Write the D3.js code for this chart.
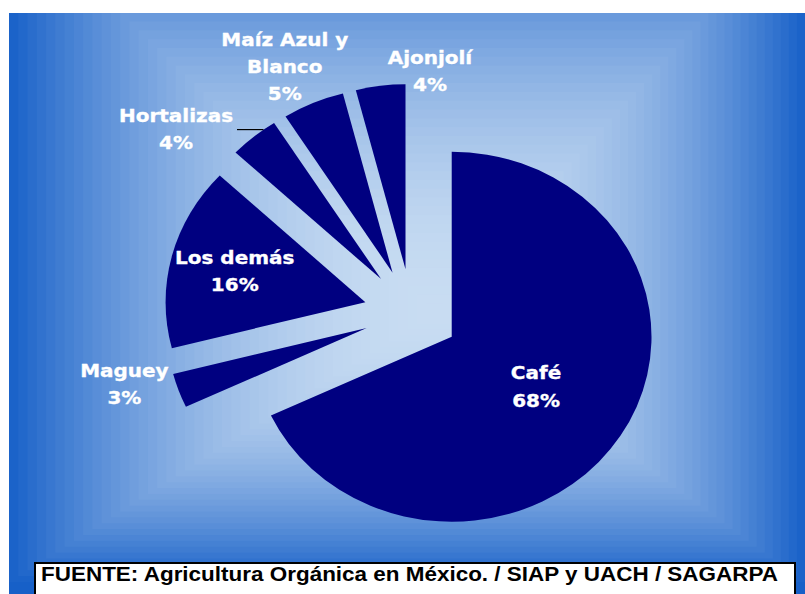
<!DOCTYPE html>
<html>
<head>
<meta charset="utf-8">
<script src="https://cdn.jsdelivr.net/npm/d3@7"></script>
<style>
  html, body { margin: 0; padding: 0; background: #ffffff; }
  svg { display: block; }
</style>
</head>
<body>
<svg id="chart" width="805" height="594"></svg>
<script>
// Superficie orgánica por cultivo (%)
const categories = ["Café", "Maguey", "Los demás", "Hortalizas", "Maíz Azul y Blanco", "Ajonjolí"];
const shares = [68, 3, 16, 4, 5, 4];
const labelLines = [["Café"], ["Maguey"], ["Los demás"], ["Hortalizas"], ["Maíz Azul y", "Blanco"], ["Ajonjolí"]];
const sourceNote = "FUENTE: Agricultura Orgánica en México. / SIAP y UACH / SAGARPA";

const W = 805, H = 594;
const svg = d3.select("#chart");

// ---- background panel with a rectangular centre-out gradient ----
const panel = { x0: 9, y0: 13, x1: W, y1: H };
svg.append("defs").append("clipPath").attr("id", "panelClip")
  .append("rect")
  .attr("x", panel.x0).attr("y", panel.y0)
  .attr("width", panel.x1 - panel.x0).attr("height", panel.y1 - panel.y0);

const grad = { cx: 435, cy: 312, left: 426, right: 370, top: 405, bottom: 270 };
const lightC = "#c8dcf2", darkC = "#1760c8";
const mix = d3.interpolateRgb(lightC, darkC);
const bands = 46;
const bgG = svg.append("g").attr("clip-path", "url(#panelClip)");
bgG.append("rect")
  .attr("x", panel.x0).attr("y", panel.y0)
  .attr("width", panel.x1 - panel.x0).attr("height", panel.y1 - panel.y0)
  .attr("fill", darkC);
const bandSteps = d3.range(bands, 0, -1).map(k => k / bands);
bgG.selectAll("rect.band").data(bandSteps).join("rect")
  .attr("class", "band")
  .attr("x", t => grad.cx - t * grad.left)
  .attr("y", t => grad.cy - t * grad.top)
  .attr("width", t => t * (grad.left + grad.right))
  .attr("height", t => t * (grad.top + grad.bottom))
  .attr("fill", t => mix(Math.pow(t - 0.5 / bands, 2)));

// ---- exploded pie ----
const R = 185, stretchX = 1.08, explode = 44.1;
const C = { x: 411.5, y: 313.1 };
const pieData = d3.pie().sort(null).value(d => d).startAngle(0).endAngle(2 * Math.PI)(shares);
const arc = d3.arc().innerRadius(0).outerRadius(R);
const midOf = d => (d.startAngle + d.endAngle) / 2;

const pieG = svg.append("g")
  .attr("transform", `translate(${C.x},${C.y}) scale(${stretchX},1)`);
pieG.selectAll("path").data(pieData).join("path")
  .attr("transform", d => {
    const m = midOf(d);
    return `translate(${explode * Math.sin(m)},${-explode * Math.cos(m)})`;
  })
  .attr("d", arc)
  .attr("fill", "#000080");

// screen position of the apex of an exploded slice
function apex(d) {
  const m = midOf(d);
  return { x: C.x + stretchX * explode * Math.sin(m), y: C.y - explode * Math.cos(m) };
}
// screen position at a polar offset from a slice apex
function polar(d, rad, ang) {
  const a = apex(d);
  return { x: a.x + stretchX * rad * Math.sin(ang), y: a.y - rad * Math.cos(ang) };
}

// ---- data labels ----
const deg = Math.PI / 180;
const labelPlace = [
  { k: 0.50, shift: 0 },
  { k: 1.25, shift: 5.8 },
  { k: 0.675, shift: 0 },
  { k: 1.31, shift: -12, leader: true },
  { k: 1.24, shift: -2.4 },
  { k: 1.08, shift: 13.7 }
];
const fontSize = 18.5, lineH = 27.3, capH = 13.5;

const labelsG = svg.append("g")
  .attr("font-family", "'DejaVu Sans', Verdana, sans-serif")
  .attr("font-weight", "bold")
  .attr("font-size", fontSize)
  .attr("fill", "#ffffff")
  .attr("stroke", "#ffffff")
  .attr("stroke-width", 0.35)
  .attr("text-anchor", "middle");

pieData.forEach((d, i) => {
  const place = labelPlace[i];
  const p = polar(d, place.k * R, midOf(d) + place.shift * deg);
  const lines = labelLines[i].concat([shares[i] + "%"]);
  const g = labelsG.append("g")
    .attr("transform", `translate(${p.x},${p.y}) scale(${stretchX},1)`);
  const texts = g.selectAll("text").data(lines).join("text")
    .attr("x", 0)
    .attr("y", (s, j) => (j - (lines.length - 1) / 2) * lineH + capH / 2)
    .text(s => s);

  if (place.leader) {
    const w = texts.node().getComputedTextLength() * stretchX;
    const y = p.y + 1;
    const a = apex(d);
    const cosT = Math.max(-1, Math.min(1, (a.y - y) / R));
    const theta = 2 * Math.PI - Math.acos(cosT);
    const end = { x: a.x + stretchX * R * Math.sin(theta), y };
    svg.append("line")
      .attr("x1", p.x + w / 2 + 4).attr("y1", y)
      .attr("x2", end.x).attr("y2", end.y)
      .attr("stroke", "#000000").attr("stroke-width", 1.2);
  }
});

// ---- source note ----
svg.append("rect")
  .attr("x", 35).attr("y", 563)
  .attr("width", 760).attr("height", 40)
  .attr("fill", "#ffffff")
  .attr("stroke", "#000000").attr("stroke-width", 2);
svg.append("text")
  .attr("x", 41).attr("y", 581)
  .attr("font-family", "'Liberation Sans', Arial, sans-serif")
  .attr("font-weight", "bold")
  .attr("font-size", 19.5)
  .attr("fill", "#000000")
  .attr("textLength", 737)
  .attr("lengthAdjust", "spacingAndGlyphs")
  .text(sourceNote);
</script>
</body>
</html>
